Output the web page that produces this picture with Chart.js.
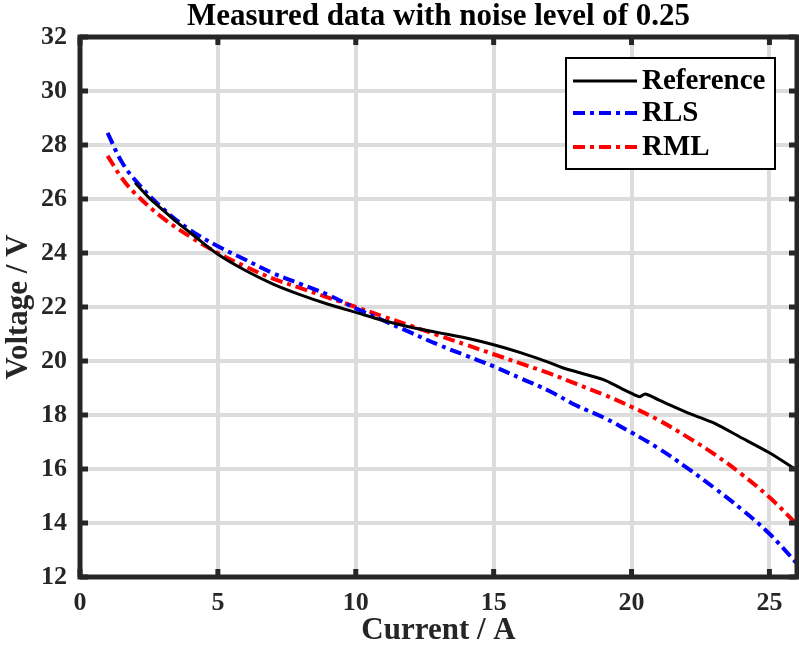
<!DOCTYPE html>
<html>
<head>
<meta charset="utf-8">
<script src="https://cdn.jsdelivr.net/npm/chart.js@4"></script>
<style>
  body { margin: 0; background: #fff; }
  #wrap { width: 799px; height: 650px; }
</style>
</head>
<body>
<div id="wrap"><canvas id="plot"></canvas></div>
<script>
// gemeten data, ruisniveau 0.25

var refX = [2, 2.5, 3, 3.5, 4, 5, 6, 7, 8, 9, 10, 11, 12, 13, 14, 15, 16, 17, 17.5, 18, 19, 19.5, 20, 20.3, 20.5, 21, 22, 22.5, 23, 24, 25, 26];
var refY = [26.6, 26.05, 25.6, 25.15, 24.75, 23.95, 23.35, 22.85, 22.45, 22.1, 21.8, 21.5, 21.25, 21.05, 20.85, 20.6, 20.3, 19.95, 19.75, 19.6, 19.3, 19.05, 18.8, 18.68, 18.78, 18.55, 18.1, 17.9, 17.7, 17.15, 16.6, 15.95];

var fitX = [1, 1.5, 2, 3, 4, 5, 6, 7, 8, 9, 10, 11, 12, 13, 14, 15, 16, 17, 18, 19, 20, 21, 22, 23, 24, 25, 26];
var rlsY = [28.45, 27.4, 26.7, 25.65, 24.85, 24.25, 23.75, 23.25, 22.85, 22.45, 21.95, 21.5, 21.05, 20.6, 20.2, 19.8, 19.35, 18.9, 18.35, 17.9, 17.35, 16.75, 16.05, 15.3, 14.5, 13.6, 12.5];
var rmlY = [27.6, 26.8, 26.2, 25.3, 24.6, 24.0, 23.5, 23.05, 22.7, 22.35, 22.0, 21.65, 21.3, 20.95, 20.6, 20.25, 19.9, 19.55, 19.15, 18.75, 18.3, 17.8, 17.2, 16.55, 15.8, 14.95, 13.95];

var xTicks = [0, 5, 10, 15, 20, 25];
var yTicks = [12, 14, 16, 18, 20, 22, 24, 26, 28, 30, 32];

function punten(xs, ys) {
    return xs.map(function (x, i) { return { x: x, y: ys[i] }; });
}

var serif = '"Liberation Serif", "Times New Roman", serif';
var dashDot = [12, 5, 4, 5];

// titel, kader, tickjes en legenda
var extras = {
    id: 'extras',
    afterDraw: function (chart) {
        var c = chart.ctx, a = chart.chartArea;
        var sx = chart.scales.x, sy = chart.scales.y;
        c.save();
        c.fillStyle = '#000';
        c.font = 'bold 31px ' + serif;
        c.textAlign = 'center';
        c.textBaseline = 'middle';
        c.fillText('Measured data with noise level of 0.25', (a.left + a.right) / 2, 17);

        // tickjes naar binnen
        c.strokeStyle = '#262626';
        c.lineWidth = 5;
        c.beginPath();
        xTicks.forEach(function (t) {
            var px = sx.getPixelForValue(t);
            c.moveTo(px, a.bottom); c.lineTo(px, a.bottom - 8);
            c.moveTo(px, a.top); c.lineTo(px, a.top + 8);
        });
        yTicks.forEach(function (t) {
            var py = sy.getPixelForValue(t);
            c.moveTo(a.left, py); c.lineTo(a.left + 8, py);
            c.moveTo(a.right, py); c.lineTo(a.right - 8, py);
        });
        c.stroke();
        c.strokeRect(a.left, a.top, a.right - a.left, a.bottom - a.top);

        // legenda
        var bx = 566, by = 58, bw = 209, bh = 111;
        c.fillStyle = '#fff';
        c.fillRect(bx, by, bw, bh);
        c.strokeStyle = '#000';
        c.lineWidth = 2;
        c.strokeRect(bx, by, bw, bh);
        c.textAlign = 'left';
        c.font = 'bold 29px ' + serif;
        var rows = [81, 113, 147];
        chart.data.datasets.forEach(function (ds, i) {
            var ly = rows[i];
            c.strokeStyle = ds.borderColor;
            c.lineWidth = ds.borderWidth;
            c.setLineDash(ds.borderDash || []);
            c.beginPath();
            c.moveTo(bx + 7, ly); c.lineTo(bx + 71, ly);
            c.stroke();
            c.setLineDash([]);
            c.fillStyle = '#000';
            c.fillText(ds.label, bx + 76, ly + 1);
        });
        c.restore();
    }
};

var ctx = document.getElementById('plot').getContext('2d');
var chart = new Chart(ctx, {
    type: 'line',
    data: {
        datasets: [{
            label: 'Reference',
            data: punten(refX, refY),
            borderColor: '#000',
            borderWidth: 3,
            pointRadius: 0,
            tension: 0.3
        }, {
            label: 'RLS',
            data: punten(fitX, rlsY),
            borderColor: '#0000ff',
            borderWidth: 4,
            borderDash: dashDot,
            pointRadius: 0,
            tension: 0.4
        }, {
            label: 'RML',
            data: punten(fitX, rmlY),
            borderColor: '#ff0000',
            borderWidth: 4,
            borderDash: dashDot,
            pointRadius: 0,
            tension: 0.4
        }]
    },
    options: {
        responsive: true,
        maintainAspectRatio: false,
        animation: false,
        layout: { padding: { top: 37, right: 2, left: 0, bottom: 0 } },
        plugins: { legend: { display: false }, tooltip: { enabled: false } },
        scales: {
            x: {
                type: 'linear', min: 0, max: 26,
                afterFit: function (s) { s.height = 73; },
                afterBuildTicks: function (s) { s.ticks = xTicks.map(function (v) { return { value: v }; }); },
                grid: { color: '#dcdcdc', lineWidth: 4, drawTicks: false },
                border: { display: false },
                ticks: { color: '#262626', padding: 11, font: { family: serif, size: 26, weight: 'bold' } },
                title: { display: true, text: 'Current / A', color: '#262626', padding: { top: 0, bottom: 0 }, font: { family: serif, size: 31, weight: 'bold' } }
            },
            y: {
                type: 'linear', min: 12, max: 32,
                afterFit: function (s) { s.width = 80; },
                afterBuildTicks: function (s) { s.ticks = yTicks.map(function (v) { return { value: v }; }); },
                grid: { color: '#dcdcdc', lineWidth: 4, drawTicks: false },
                border: { display: false },
                ticks: { color: '#262626', padding: 13, font: { family: serif, size: 26, weight: 'bold' } },
                title: { display: true, text: 'Voltage / V', color: '#262626', padding: { top: 0, bottom: 0 }, font: { family: serif, size: 31, weight: 'bold' } }
            }
        }
    },
    plugins: [extras]
});
</script>
</body>
</html>
